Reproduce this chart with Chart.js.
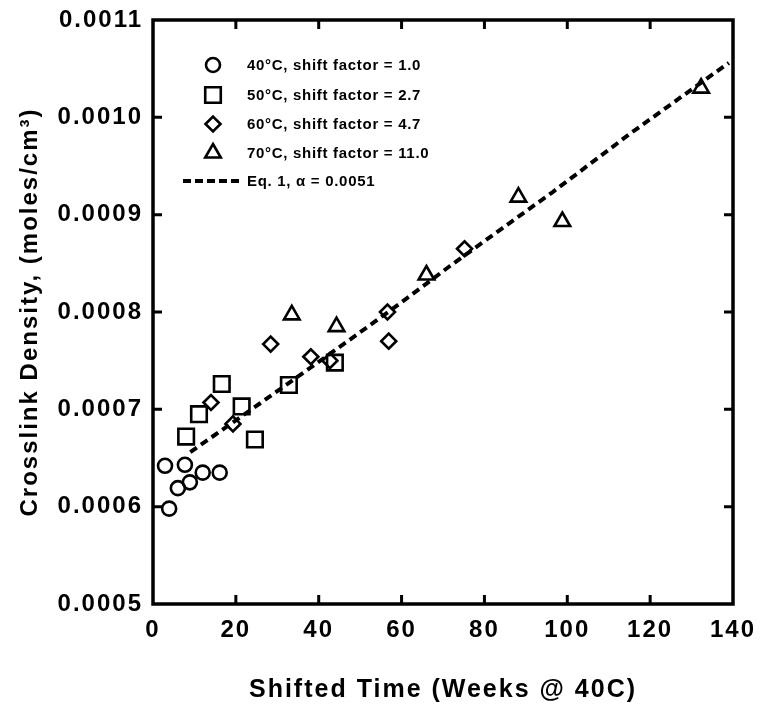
<!DOCTYPE html>
<html>
<head>
<meta charset="utf-8">
<script src="https://cdn.jsdelivr.net/npm/chart.js@4/dist/chart.umd.min.js"></script>
<style>
html,body{margin:0;padding:0;background:#fff;}
canvas{display:block;}
</style>
</head>
<body>
<canvas id="c" width="761" height="708"></canvas>
<script>
// ---- data ----
const x40 = [2.9, 7.7, 12.0, 16.1, 6.0, 8.9, 3.9];
const y40 = [0.000642, 0.000643, 0.000635, 0.000635, 0.000619, 0.000625, 0.000598];
const x50 = [8.0, 11.1, 16.6, 21.4, 24.6, 32.8, 43.9];
const y50 = [0.000672, 0.000695, 0.000726, 0.000703, 0.000669, 0.000725, 0.000748];
const x60 = [14.0, 19.3, 28.4, 38.1, 42.7, 56.6, 56.9, 75.2];
const y60 = [0.000707, 0.000685, 0.000767, 0.000754, 0.000750, 0.000800, 0.000770, 0.000865];
const x70 = [33.5, 44.3, 66.0, 88.2, 98.8, 132.3];
const y70 = [0.000797, 0.000785, 0.000838, 0.000918, 0.000893, 0.001030];
const xFit = [9, 25.8, 38.1, 50.6, 60, 71.6, 84.3, 96.4, 115.4, 139];
const yFit = [0.000656, 0.000706, 0.000743, 0.000781, 0.000810, 0.000847, 0.000886, 0.000923, 0.000984, 0.001056];
const seriesLabels = ["40\u00B0C, shift factor = 1.0", "50\u00B0C, shift factor = 2.7", "60\u00B0C, shift factor = 4.7", "70\u00B0C, shift factor = 11.0", "Eq. 1, \u03B1 = 0.0051"];
const xRange = [0, 140], xStep = 20;
const yRange = [0.0005, 0.0011], yStep = 0.0001;
const xTitle = "Shifted Time (Weeks @ 40C)";
const yTitle = "Crosslink Density, (moles/cm\u00B3)";

const pts = (xs, ys) => xs.map((x, i) => ({x: x, y: ys[i]}));
const FONT = "'Liberation Sans', Arial, Helvetica, sans-serif";

const markerDefaults = {showLine: false, borderColor: '#000', backgroundColor: 'rgba(255,255,255,0)', borderWidth: 2.6};

const spacing = {
  id: 'spacing',
  beforeUpdate(chart) { chart.ctx.letterSpacing = '2px'; },
  beforeDraw(chart) { chart.ctx.letterSpacing = '2px'; }
};

const frameTicks = {
  id: 'frameTicks',
  afterDatasetsDraw(chart) {
    const {ctx, chartArea: a, scales} = chart;
    ctx.save();
    ctx.strokeStyle = '#000';
    ctx.lineWidth = 3;
    const L = 9;
    scales.x.ticks.forEach(t => {
      if (t.value <= scales.x.min || t.value >= scales.x.max) return;
      const px = scales.x.getPixelForValue(t.value);
      ctx.beginPath();
      ctx.moveTo(px, a.bottom); ctx.lineTo(px, a.bottom - L);
      ctx.moveTo(px, a.top); ctx.lineTo(px, a.top + L);
      ctx.stroke();
    });
    scales.y.ticks.forEach(t => {
      if (t.value <= scales.y.min + 1e-12 || t.value >= scales.y.max - 1e-12) return;
      const py = scales.y.getPixelForValue(t.value);
      ctx.beginPath();
      ctx.moveTo(a.left, py); ctx.lineTo(a.left + L, py);
      ctx.moveTo(a.right, py); ctx.lineTo(a.right - L, py);
      ctx.stroke();
    });
    ctx.lineWidth = 3.5;
    ctx.strokeRect(a.left, a.top, a.right - a.left, a.bottom - a.top);
    ctx.restore();
  }
};

const customLegend = {
  id: 'customLegend',
  afterDraw(chart) {
    const ctx = chart.ctx;
    const ds = chart.data.datasets;
    const symX = 213, textX = 247;
    const rows = [65, 95, 124, 153, 181];
    ctx.save();
    ctx.letterSpacing = '0.7px';
    ctx.font = "bold 15px " + FONT;
    ctx.fillStyle = '#000';
    ctx.textBaseline = 'middle';
    ctx.textAlign = 'left';
    ds.forEach((d, i) => {
      const y = rows[i];
      if (d.showLine) {
        ctx.save();
        ctx.strokeStyle = '#000';
        ctx.lineWidth = 4;
        ctx.setLineDash([8, 4]);
        ctx.beginPath();
        ctx.moveTo(183, y); ctx.lineTo(241, y);
        ctx.stroke();
        ctx.restore();
      } else {
        ctx.save();
        ctx.strokeStyle = '#000';
        ctx.fillStyle = 'rgba(255,255,255,0)';
        ctx.lineWidth = d.borderWidth;
        Chart.helpers.drawPoint(ctx, {pointStyle: d.pointStyle, radius: d.pointRadius, rotation: 0, borderWidth: d.borderWidth}, symX, y);
        ctx.restore();
      }
      ctx.fillText(d.label, textX, y + 1);
    });
    ctx.restore();
  }
};

new Chart(document.getElementById('c'), {
  type: 'scatter',
  data: {
    datasets: [
      Object.assign({label: seriesLabels[0], data: pts(x40, y40), pointStyle: 'circle', pointRadius: 7}, markerDefaults),
      Object.assign({label: seriesLabels[1], data: pts(x50, y50), pointStyle: 'rect', pointRadius: 11}, markerDefaults),
      Object.assign({label: seriesLabels[2], data: pts(x60, y60), pointStyle: 'rectRot', pointRadius: 7.5}, markerDefaults),
      Object.assign({label: seriesLabels[3], data: pts(x70, y70), pointStyle: 'triangle', pointRadius: 9}, markerDefaults),
      {label: seriesLabels[4], data: pts(xFit, yFit), showLine: true, pointRadius: 0, borderColor: '#000', borderWidth: 4, borderDash: [8, 5], fill: false, tension: 0}
    ]
  },
  options: {
    responsive: false,
    animation: false,
    devicePixelRatio: 1,
    layout: {padding: {top: 20, right: 28, left: 0, bottom: 0}},
    plugins: {legend: {display: false}, tooltip: {enabled: false}},
    elements: {point: {hoverRadius: 0}},
    scales: {
      x: {
        type: 'linear', min: xRange[0], max: xRange[1],
        grid: {display: false, drawTicks: false},
        border: {display: false},
        ticks: {stepSize: xStep, color: '#000', padding: 12, font: {family: FONT, size: 24, weight: 'bold'}, maxRotation: 0},
        title: {display: true, text: xTitle, color: '#000', font: {family: FONT, size: 25, weight: 'bold'}, padding: {top: 0, bottom: 3}},
        afterFit(s) { s.height = 104; s.paddingLeft = 0; s.paddingRight = 0; }
      },
      y: {
        type: 'linear', min: yRange[0], max: yRange[1],
        grid: {display: false, drawTicks: false},
        border: {display: false},
        ticks: {stepSize: yStep, color: '#000', padding: 10, font: {family: FONT, size: 24, weight: 'bold'}, callback: v => v.toFixed(4)},
        title: {display: true, text: yTitle, color: '#000', font: {family: FONT, size: 24, weight: 'bold'}, padding: {top: 16, bottom: 0}},
        afterFit(s) { s.width = 153; s.paddingTop = 0; s.paddingBottom = 0; }
      }
    }
  },
  plugins: [spacing, frameTicks, customLegend]
});
</script>
</body>
</html>
